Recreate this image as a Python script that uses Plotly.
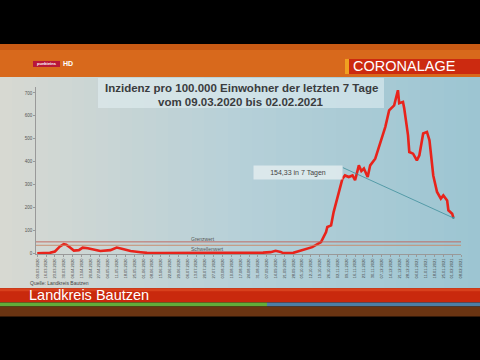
import plotly.graph_objects as go

# ---- data ----
dates = ["2020-03-09","2020-03-19","2020-03-23","2020-03-27","2020-03-30","2020-04-01","2020-04-04",
         "2020-04-07","2020-04-11","2020-04-14","2020-04-18","2020-04-23","2020-04-28","2020-05-06",
         "2020-05-11","2020-05-15","2020-05-22","2020-05-30","2020-06-04","2020-06-15","2020-07-07",
         "2020-08-06","2020-08-25","2020-09-04","2020-09-10","2020-09-14","2020-09-18","2020-09-20",
         "2020-09-28","2020-10-05","2020-10-13","2020-10-20","2020-10-24","2020-10-25","2020-10-28",
         "2020-10-30","2020-11-02","2020-11-04","2020-11-06","2020-11-08","2020-11-11","2020-11-14",
         "2020-11-16","2020-11-17","2020-11-19","2020-11-21","2020-11-23","2020-11-26","2020-11-28",
         "2020-12-02","2020-12-06","2020-12-10","2020-12-13","2020-12-17","2020-12-20","2020-12-21",
         "2020-12-24","2020-12-25","2020-12-28","2020-12-29","2021-01-01","2021-01-04","2021-01-06",
         "2021-01-09","2021-01-12","2021-01-14","2021-01-17","2021-01-20","2021-01-23","2021-01-25",
         "2021-01-28","2021-01-29","2021-02-01","2021-02-02"]
inzidenz = [0,2,8,30,40,38,25,
            12,14,25,22,15,10,14,
            25,20,10,5,2,1,1,
            2,1,3,5,11,6,1,
            2,13,27,49,93,115,122,
            180,246,290,326,340,333,340,
            319,340,384,359,370,333,384,
            413,486,552,624,646,712,655,
            661,632,515,442,435,406,428,
            523,530,493,340,268,239,253,
            231,188,173,154.33]
y_ticks = [0, 100, 200, 300, 400, 500, 600, 700]
grenzwert = 50
schwellenwert = 35
title_lines = ["Inzidenz pro 100.000 Einwohner der letzten 7 Tage", "vom 09.03.2020 bis 02.02.2021"]
last_label = "154,33 in 7 Tagen"

# ---- pixel helpers (plot area in pixels) ----
W, H = 480, 360
PL, PR, PT, PB = 36, 461, 87, 253.7
def px(x): return (x - PL) / (PR - PL)
def py(y): return (PB - y) / (PB - PT)

def lerp(c1, c2, t):
    return "#%02x%02x%02x" % tuple(int(round(a + (b - a) * t)) for a, b in zip(c1, c2))

shapes = []
def rect(x0, y0, x1, y1, color, layer="below"):
    shapes.append(dict(type="rect", xref="paper", yref="paper", x0=px(x0), x1=px(x1),
                       y0=py(y1), y1=py(y0), fillcolor=color, line=dict(width=0), layer=layer))

# header
rect(0, 44, W, 77, "#d8691c")
rect(0, 44, W, 50, "#c85a14")
# chart background gradient
stops = [(0, (0xd8, 0xd9, 0xd2)), (240, (0xb6, 0xd0, 0xd8)), (480, (0x9c, 0xc5, 0xd2))]
n = 40
for i in range(n):
    x0 = i * W / n
    xc = x0 + W / n / 2
    if xc <= 240:
        c = lerp(stops[0][1], stops[1][1], xc / 240)
    else:
        c = lerp(stops[1][1], stops[2][1], (xc - 240) / 240)
    rect(x0, 77, x0 + W / n + 0.5, 288, c)
# title box
rect(98, 78, 384, 108, "rgba(228,240,244,0.55)")
# CORONALAGE box
rect(345, 59, 349, 74, "#f0a020")
rect(349, 59, W, 74, "#cc2a10")
# logo
rect(33, 61, 60, 67, "#b8173a")
# bottom bands
rect(0, 288, W, 302, "#c9290d")
rect(0, 288, W, 291, "#d8401c")
rect(0, 302, 267, 306, "#62ad3a")
rect(267, 302, W, 306, "#4d7fa6")
rect(0, 306, W, 316, "#6a3412")

# threshold lines
for val, col in [(grenzwert, "#c06058"), (schwellenwert, "#c88866")]:
    shapes.append(dict(type="line", xref="paper", yref="y", x0=0, x1=1, y0=val, y1=val,
                       line=dict(color=col, width=0.9), layer="above"))

fig = go.Figure()
fig.add_trace(go.Scatter(x=dates, y=inzidenz, mode="lines",
                         line=dict(color="#e8231b", width=2.6), hoverinfo="skip", showlegend=False))

def txt(x, y, text, size, color, xanchor="center", yref="paper", **kw):
    d = dict(xref="paper", yref=yref, x=px(x), y=py(y) if yref == "paper" else y, text=text,
             showarrow=False, xanchor=xanchor, yanchor="middle",
             font=dict(size=size, color=color, family="Liberation Sans"))
    d.update(kw)
    return d

annotations = [
    txt(241, 88, "<b>%s</b>" % title_lines[0], 11.5, "#3a3c3e"),
    txt(241, 101.5, "<b>%s</b>" % title_lines[1], 11.5, "#3a3c3e"),
    txt(351, 66.5, "CORONALAGE", 14.5, "white", xanchor="left"),
    txt(46.5, 64, "<b>punkteins</b>", 4, "white"),
    txt(61, 64, "<b>HD</b>", 7, "white", xanchor="left"),
    txt(27, 295, "Landkreis Bautzen", 14.5, "white", xanchor="left"),
    txt(28, 283, "Quelle: Landkreis Bautzen", 5, "#444", xanchor="left"),
    txt(203, 62, "Grenzwert", 5, "#555", yref="y"),
    txt(207, 18, "Schwellenwert", 5, "#555", yref="y"),
    txt(298, 172.5, last_label, 7, "#444", width=86, height=11, bgcolor="rgba(226,236,238,0.85)"),
    # connector line
    dict(x=dates[-1], y=inzidenz[-1], text="", showarrow=True, arrowhead=6, arrowsize=0.7,
         arrowwidth=0.8, arrowcolor="#3f8f9c", ax=-112, ay=-51),
]

fig.update_layout(
    width=W, height=H,
    margin=dict(l=PL, r=W - PR, t=PT, b=H - PB),
    paper_bgcolor="black", plot_bgcolor="rgba(0,0,0,0)",
    shapes=shapes, annotations=annotations,
    xaxis=dict(type="date", range=["2020-03-08", "2021-02-08"], tick0="2020-03-09",
               dtick=7 * 86400000, tickformat="%d.%m.%Y", tickangle=-90,
               tickfont=dict(size=4, color="#444", family="Liberation Sans"),
               showgrid=False, zeroline=False, showline=True, linecolor="#999", linewidth=0.8,
               ticks="outside", ticklen=2, tickcolor="#999"),
    yaxis=dict(range=[-3, 726], tickvals=y_ticks, showgrid=False, zeroline=False,
               showline=True, linecolor="#999", linewidth=0.8, ticks="outside", ticklen=2,
               tickcolor="#999", tickfont=dict(size=4.5, color="#555", family="Liberation Sans")),
    font=dict(family="Liberation Sans"),
)
fig.write_html("out.html", config={"displayModeBar": False},
               post_script="document.body.style.margin='0';document.body.style.overflow='hidden';")
